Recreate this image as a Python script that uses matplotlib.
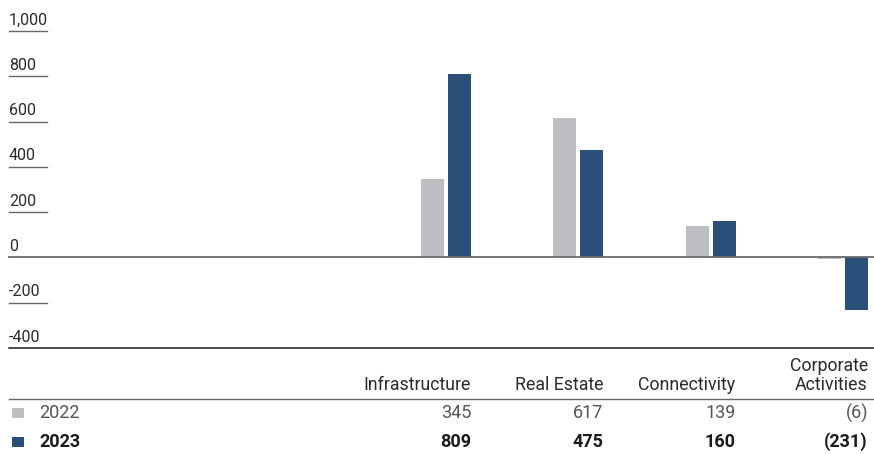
import matplotlib.pyplot as plt
from matplotlib.patches import Rectangle
import matplotlib.transforms as mtransforms

plt.rcParams['font.family'] = ['Roboto', 'DejaVu Sans']

segments = ["Infrastructure", "Real Estate", "Connectivity", "Corporate\nActivities"]
years = ["2022", "2023"]
values_2022 = [345, 617, 139, -6]
values_2023 = [809, 475, 160, -231]
yticks = [-400, -200, 0, 200, 400, 600, 800, 1000]

GREY = "#bdbec1"
NAVY = "#2a4f78"
TEXT = "#2b2b2b"

W, H = 874, 454
fig = plt.figure(figsize=(W / 100, H / 100), dpi=100)


def fx(x):
    return x / W


def fy(y):
    return 1 - y / H


# chart area in pixel terms: x 9..874, y 31 (1,000) .. 348 (-400)
ax = fig.add_axes([fx(9), fy(348), (874 - 9) / W, (348 - 31) / H])
ax.set_ylim(-400, 1000)
step = 132.3          # px between group centres
first = 446           # centre of first group
ax.set_xlim((9 - first) / step, (874 - first) / step)
ax.axis("off")

xs = list(range(len(segments)))
bw = 23 / step
off = 13.5 / step
ax.bar([x - off for x in xs], values_2022, width=bw, color=GREY, zorder=2)
ax.bar([x + off for x in xs], values_2023, width=bw, color=NAVY, zorder=2)

trans = mtransforms.blended_transform_factory(ax.transAxes, ax.transData)
short = 38 / 865
for t in yticks:
    if t == 0:
        ax.axhline(0, color="#6b6b6b", lw=1.3, zorder=3, clip_on=False)
    elif t == -400:
        ax.axhline(t, color="#1a1a1a", lw=1.1, zorder=3, clip_on=False)
    else:
        ax.axhline(t, xmin=0, xmax=short, color="#666666", lw=1.0,
                   zorder=3, clip_on=False)
    ax.annotate(f"{t:,}", xy=(0, t), xycoords=trans, xytext=(0, 2.5),
                textcoords="offset points", ha="left", va="bottom",
                fontsize=11.5, color=TEXT)

# data table under the chart
col_right = [first + step * i + 25 for i in xs]
for x, name in zip(col_right, segments):
    fig.text(fx(x), fy(390), name, ha="right", va="baseline",
             fontsize=12.8, color=TEXT, linespacing=1.05)

fig.add_artist(plt.Line2D([fx(9), fx(874)], [fy(399), fy(399)],
                          color="#666666", lw=1.0))


def fmt(v):
    return f"({abs(v):,})" if v < 0 else f"{v:,}"


rows = [(years[0], values_2022, GREY, "normal", 413, "#555555"),
        (years[1], values_2023, NAVY, "bold", 442, "#1a1a1a")]
for label, vals, col, weight, yc, tcol in rows:
    fig.add_artist(Rectangle((fx(12), fy(yc + 5)), 12 / W, 10 / H,
                             transform=fig.transFigure, color=col, lw=0))
    fig.text(fx(39), fy(yc), label, ha="left", va="center",
             fontsize=13, color=tcol, fontweight=weight)
    for x, v in zip(col_right, vals):
        fig.text(fx(x), fy(yc), fmt(v), ha="right", va="center",
                 fontsize=13, color=tcol, fontweight=weight)

fig.savefig("out.png", dpi=100)
